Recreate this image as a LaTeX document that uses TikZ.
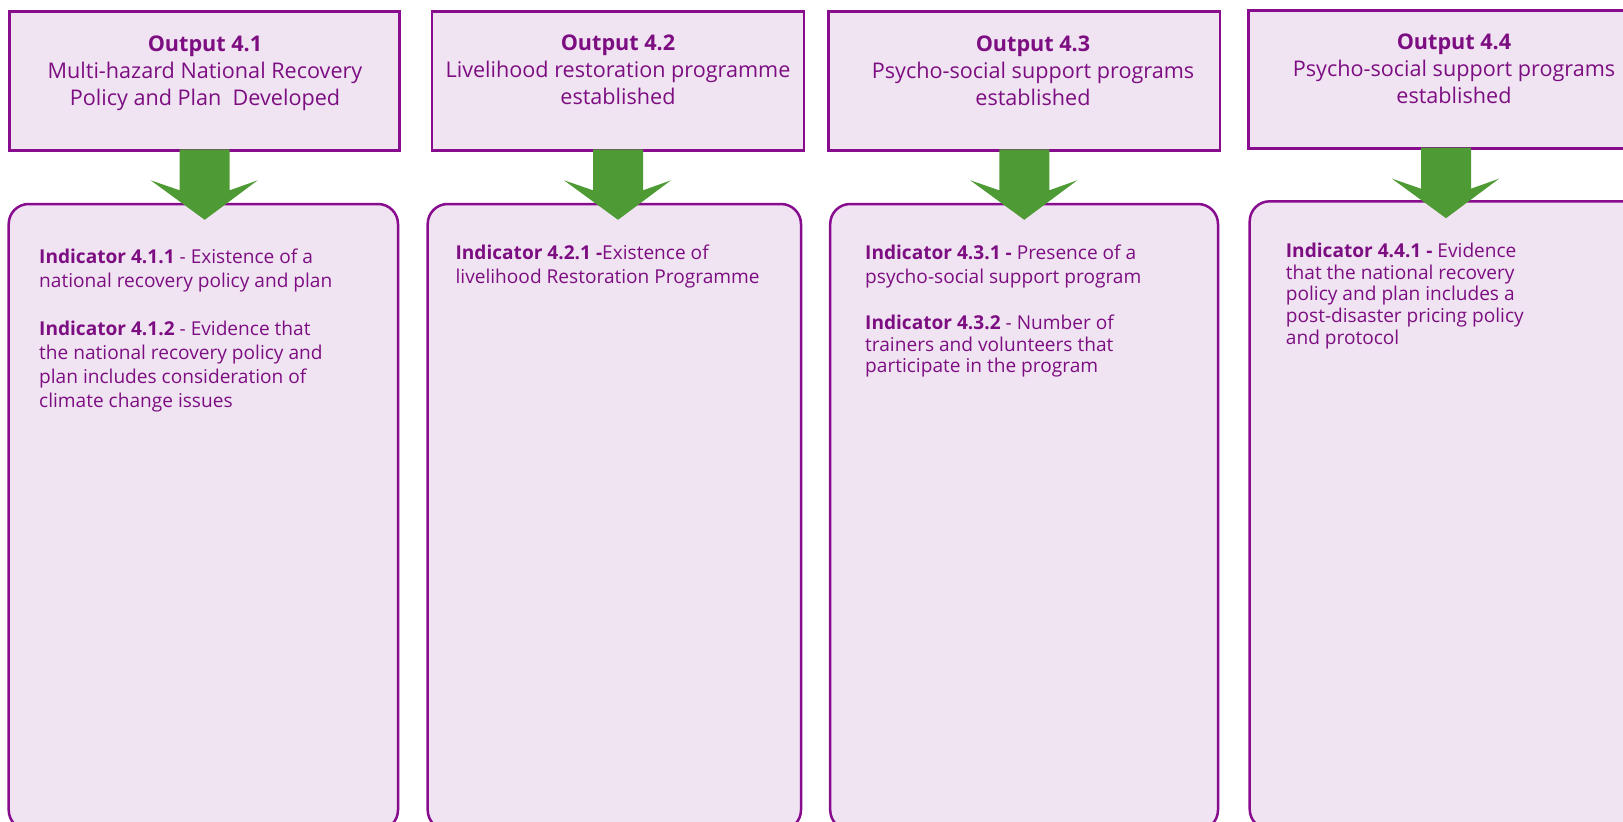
\documentclass[tikz,border=0pt]{standalone}
\usepackage{fontspec}
\setmainfont{Open Sans}
\usetikzlibrary{calc}
\definecolor{pur}{HTML}{880C8E}
\definecolor{txt}{HTML}{7D0E82}
\definecolor{fillp}{HTML}{F0E4F2}
\definecolor{grn}{HTML}{4E9A34}
\newcommand\grnarrow[1]{%
  \fill[grn] ($(#1.south)+(-25,-1)$) -- ($(#1.south)+(-25,40)$) -- ($(#1.south)+(-54,30)$)
    -- ($(#1.south)+(0,69.5)$) -- ($(#1.south)+(53,30)$) -- ($(#1.south)+(25,40)$)
    -- ($(#1.south)+(25,-1)$) -- cycle;}
\begin{document}
\begin{tikzpicture}[x=1pt,y=-1pt,
  outbox/.style={draw=pur, line width=2.8pt, fill=fillp, inner sep=0pt, outer sep=0pt, anchor=north west},
  indbox/.style={draw=pur, line width=2.5pt, fill=fillp, rounded corners=20pt, inner sep=0pt, outer sep=0pt, anchor=north west},
  outtext/.style={anchor=base, align=center, inner sep=0pt, text=txt, font=\fontsize{21.6}{27}\selectfont},
  indtext/.style={anchor=base west, align=left, inner sep=0pt, text=txt, font=\fontsize{19.1}{24}\selectfont},
  indtextb/.style={indtext, font=\fontsize{19.1}{21.6}\selectfont}]
\useasboundingbox (0,0) rectangle (1623,822);
\clip (0,0) rectangle (1623,822);
% lower indicator boxes
\node[indbox, minimum width=389.3, minimum height=626] (i1) at (8.7,204) {};
\node[indbox, minimum width=373.3, minimum height=626] (i2) at (427.7,204) {};
\node[indbox, minimum width=387.8, minimum height=626] (i3) at (830.2,204) {};
\node[indbox, minimum width=393.6, minimum height=628] (i4) at (1249.7,201.3) {};
% output boxes
\node[outbox, minimum width=390, minimum height=139] (o1) at (9.7,11.3) {};
\node[outbox, minimum width=372, minimum height=139] (o2) at (432,11.3) {};
\node[outbox, minimum width=391.5, minimum height=139] (o3) at (828.5,11.3) {};
\node[outbox, minimum width=394.6, minimum height=138] (o4) at (1248.7,10.7) {};
% arrows
\grnarrow{o1}
\grnarrow{o2}
\grnarrow{o3}
\grnarrow{o4}
% output texts (anchor = baseline of last line)
\node[outtext] (t1) at (205,105) {\textbf{Output 4.1}\\Multi-hazard National Recovery\\Policy and Plan\ \ Developed};
\node[outtext] (t2) at (618,104) {\textbf{Output 4.2}\\Livelihood restoration programme\\established};
\node[outtext] (t3) at (1033,105) {\textbf{Output 4.3}\\Psycho-social support programs\\established};
\node[outtext] (t4) at (1454,103) {\textbf{Output 4.4}\\Psycho-social support programs\\established};
% indicator texts (anchor = baseline of last line)
\node[indtext] (a1) at (39,287) {\textbf{Indicator 4.1.1} - Existence of a\\national recovery policy and plan};
\node[indtext] (a2) at (39,407) {\textbf{Indicator 4.1.2} - Evidence that\\the national recovery policy and\\plan includes consideration of\\climate change issues};
\node[indtext] (b1) at (455.4,283.3) {\textbf{Indicator 4.2.1 -}Existence of\\livelihood Restoration Programme};
\node[indtext] (c1) at (865,283.3) {\textbf{Indicator 4.3.1 -} Presence of a\\psycho-social support program};
\node[indtextb] (c2) at (865,372.7) {\textbf{Indicator 4.3.2} - Number of\\trainers and volunteers that\\participate in the program};
\node[indtextb] (d1) at (1285.7,344.1) {\textbf{Indicator 4.4.1 -} Evidence\\that the national recovery\\policy and plan includes a\\post-disaster pricing policy\\and protocol};
\end{tikzpicture}
\end{document}
